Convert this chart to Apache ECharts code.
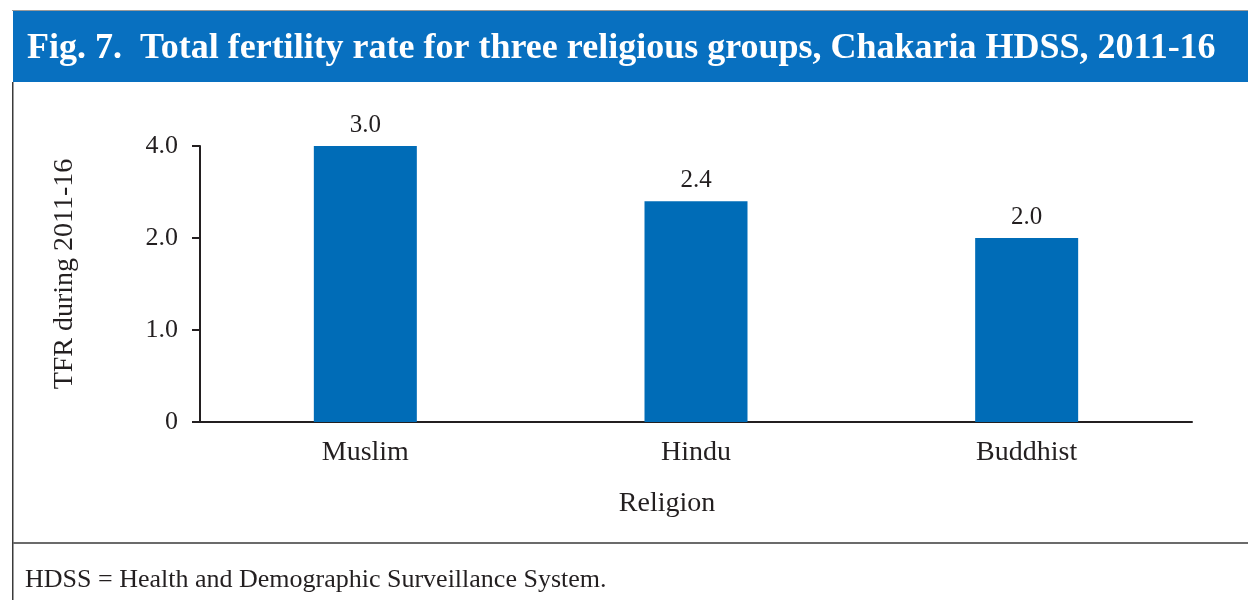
<!DOCTYPE html>
<html>
<head>
<meta charset="utf-8">
<script src="https://cdn.jsdelivr.net/npm/echarts@6/dist/echarts.min.js"></script>
<style>
  html, body { margin: 0; padding: 0; background: #ffffff; }
  #chart { width: 1248px; height: 600px; }
</style>
</head>
<body>
<div id="chart"></div>
<script>
// Religious groups and their total fertility rate, 2011-16
const categories = ['Muslim', 'Hindu', 'Buddhist'];
const tfrValues = [3.0, 2.4, 2.0];
// Printed labels for the y-axis ticks at 0, 1, 2 and 3
const yTickLabels = ['0', '1.0', '2.0', '4.0'];

const titleText = 'Fig. 7.  Total fertility rate for three religious groups, Chakaria HDSS, 2011-16';
const footnoteText = 'HDSS = Health and Demographic Surveillance System.';

const serif = '"Liberation Serif", "DejaVu Serif", serif';
const ink = '#231f20';
const blue = '#006cb7';

const chart = echarts.init(document.getElementById('chart'));

chart.setOption({
  animation: false,
  backgroundColor: '#ffffff',
  graphic: [
    // header band
    { type: 'rect', shape: { x: 12, y: 10, width: 1236, height: 1 }, style: { fill: '#9a9a9a' }, z: 0 },
    { type: 'rect', shape: { x: 13, y: 11, width: 1235, height: 71 }, style: { fill: '#0870c0' }, z: 0 },
    { type: 'text', left: 27, top: 31, style: { text: titleText, fill: '#ffffff', font: 'bold 36px ' + serif }, z: 2 },
    // frame lines
    { type: 'rect', shape: { x: 12, y: 82, width: 1.5, height: 518 }, style: { fill: '#3a3a3a' }, z: 0 },
    { type: 'rect', shape: { x: 13, y: 542, width: 1235, height: 2 }, style: { fill: '#6b6b6b' }, z: 0 },
    // footnote
    { type: 'text', left: 25, top: 567, style: { text: footnoteText, fill: ink, font: '26px ' + serif }, z: 2 }
  ],
  grid: { left: 200, right: 56, top: 146, bottom: 178 },
  xAxis: {
    type: 'category',
    data: categories,
    name: 'Religion',
    nameLocation: 'middle',
    nameGap: 68,
    nameTextStyle: { fontFamily: serif, fontSize: 28, color: ink, padding: [0, 58, 0, 0] },
    axisLine: { lineStyle: { color: ink, width: 2 } },
    axisTick: { show: false },
    axisLabel: { fontFamily: serif, fontSize: 28, color: ink, margin: 17 }
  },
  yAxis: {
    type: 'value',
    min: 0,
    max: 3,
    interval: 1,
    name: 'TFR during 2011-16',
    nameLocation: 'middle',
    nameGap: 121,
    nameRotate: 90,
    nameTextStyle: { fontFamily: serif, fontSize: 28, color: ink, padding: [0, 0, 0, 20] },
    axisLine: { show: true, lineStyle: { color: ink, width: 2 } },
    axisTick: { show: true, inside: false, length: 8, lineStyle: { color: ink, width: 2 } },
    splitLine: { show: false },
    axisLabel: {
      fontFamily: serif, fontSize: 26, color: ink, margin: 22,
      formatter: function (v) { return yTickLabels[Math.round(v)]; }
    }
  },
  series: [{
    type: 'bar',
    data: tfrValues,
    barWidth: 103,
    itemStyle: { color: blue },
    label: {
      show: true,
      position: 'top',
      distance: 8,
      fontFamily: serif,
      fontSize: 25,
      color: ink,
      formatter: function (p) { return p.value.toFixed(1); }
    }
  }]
});
</script>
</body>
</html>
